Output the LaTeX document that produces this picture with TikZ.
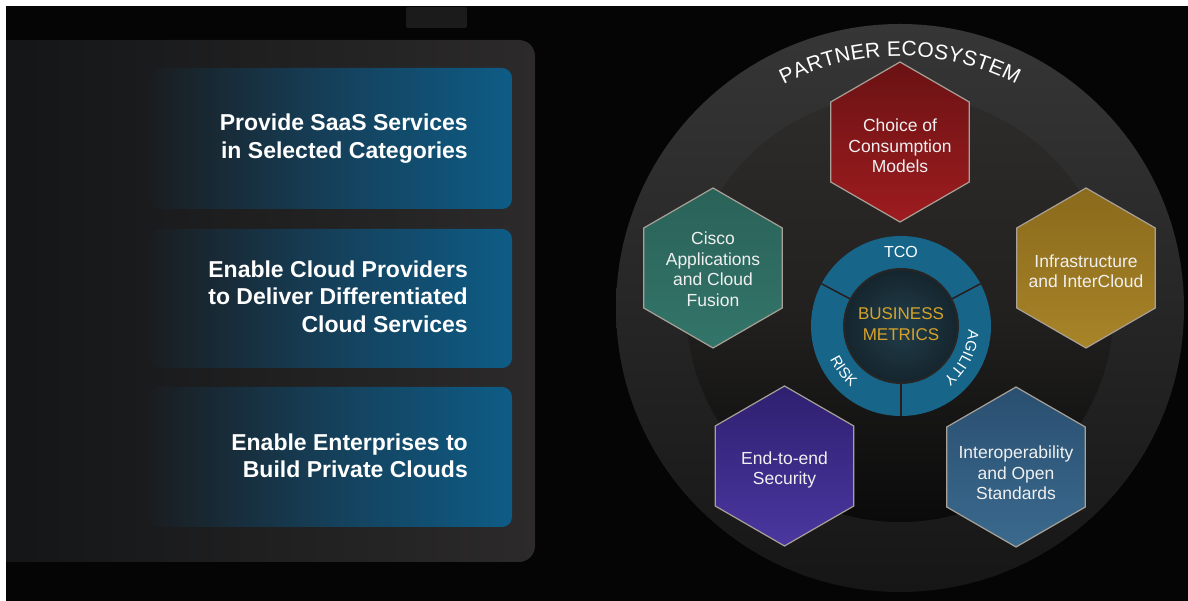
\documentclass[tikz,border=0pt]{standalone}
\usepackage{fontspec}
\setmainfont{Liberation Sans}
\usetikzlibrary{decorations.text}

\definecolor{bgblack}{HTML}{050505}
\definecolor{panelL}{HTML}{121416}
\definecolor{panelR}{HTML}{2C2A2A}
\definecolor{boxL}{HTML}{1A1D20}
\definecolor{boxM}{HTML}{15405A}
\definecolor{boxR}{HTML}{0E5C86}
\definecolor{tabgray}{HTML}{1B1B1B}
\definecolor{ringtop}{HTML}{363636}
\definecolor{ringbot}{HTML}{161616}
\definecolor{disktop}{HTML}{2E2C2B}
\definecolor{diskmid}{HTML}{222120}
\definecolor{diskbot}{HTML}{0A0A0A}
\definecolor{metricblue}{HTML}{17668A}
\definecolor{metricin}{HTML}{213E4B}
\definecolor{metricout}{HTML}{15252D}
\definecolor{metricgold}{HTML}{D6A32A}
\definecolor{divider}{HTML}{2A1C1C}
\definecolor{hexedge}{HTML}{A9A197}
\definecolor{redtop}{HTML}{6A1214}
\definecolor{redbot}{HTML}{9E1C1F}
\definecolor{tealtop}{HTML}{2A6258}
\definecolor{tealbot}{HTML}{33756A}
\definecolor{goldtop}{HTML}{8A6A1C}
\definecolor{goldbot}{HTML}{A88428}
\definecolor{purpletop}{HTML}{2E2070}
\definecolor{purplebot}{HTML}{4A37A0}
\definecolor{bluetop}{HTML}{2A4F70}
\definecolor{bluebot}{HTML}{3A6A8E}

\tikzset{
  boxtext/.style={font=\fontsize{23}{27.5}\selectfont\bfseries, text=white,
    align=right, inner sep=0pt, anchor=east},
  hextext/.style={font=\fontsize{17.5}{20.5}\selectfont, text=white!94!black,
    align=center, inner sep=0pt},
  metrictext/.style={font=\fontsize{17}{21}\selectfont, text=metricgold,
    align=center, inner sep=0pt},
  ringtext/.style={font=\fontsize{16}{16}\selectfont, text=white, inner sep=0pt},
  goalbox/.style={rounded corners=10pt, left color=boxL, right color=boxR,
    middle color=boxM},
  hexcell/.style n args={2}{top color=#1, bottom color=#2, draw=hexedge,
    line width=1.2pt},
  pics/hexagon/.style={code={
    \path[pic actions] (90:80) -- (30:80) -- (-30:80) -- (-90:80)
      -- (-150:80) -- (150:80) -- cycle;}},
  arclabel/.style={decorate, decoration={text along path, text color=white,
    text align=center, text={|\fontsize{15}{15}\selectfont|#1}}}
}

\begin{document}
\begin{tikzpicture}[x=1pt, y=1pt]
\useasboundingbox (0,0) rectangle (1188,601);
\fill[white] (0,0) rectangle (1188,601);

\begin{scope}
\clip (6,0) rectangle (1188,595);
\fill[bgblack] (6,0) rectangle (1188,595);

% small tab above the panel
\fill[tabgray, rounded corners=2pt] (406,573) rectangle (467,594);

% left panel, fading into the background on its left side
\fill[left color=panelL, right color=panelR, rounded corners=16pt]
  (-30,39) rectangle (535,561);

% the three goal boxes
\path[goalbox] (150,392) rectangle (512,533);
\path[goalbox] (150,233) rectangle (512,372);
\path[goalbox] (150,74) rectangle (512,214);

\node[boxtext] (goal1) at (468,462.5) {Provide SaaS Services\\in Selected Categories};
\node[boxtext] (goal2) at (468,304.4) {Enable Cloud Providers\\to Deliver Differentiated\\Cloud Services};
\node[boxtext] (goal3) at (468,145) {Enable Enterprises to\\Build Private Clouds};

% partner ecosystem ring
\coordinate (eco) at (900,293);
\shade[top color=ringtop, bottom color=ringbot] (eco) circle[radius=284];
\shade[top color=disktop, bottom color=diskbot, middle color=diskmid]
  (eco) circle[radius=214];
\path[decorate, decoration={text along path, text color=white,
    text align={fit to path},
    text={|\fontsize{21}{21}\selectfont|PARTNER ECOSYSTEM}}]
  ([shift={(117.5:252)}]eco) arc[start angle=117.5, end angle=62.5, radius=252];

% hexagonal capabilities
\pic[hexcell={redtop}{redbot}] at (900,459) {hexagon};
\pic[hexcell={tealtop}{tealbot}] at (713,333) {hexagon};
\pic[hexcell={goldtop}{goldbot}] at (1086,333) {hexagon};
\pic[hexcell={purpletop}{purplebot}] at (784.5,135) {hexagon};
\pic[hexcell={bluetop}{bluebot}] at (1016,134) {hexagon};

\node[hextext] (choice) at (900,455) {Choice of\\Consumption\\Models};
\node[hextext] (cisco) at (713,331.5) {Cisco\\Applications\\and Cloud\\Fusion};
\node[hextext] (infra) at (1086,329.5) {Infrastructure\\and InterCloud};
\node[hextext] (security) at (784.5,131) {End-to-end\\Security};
\node[hextext] (interop) at (1016,128) {Interoperability\\and Open\\Standards};

% business metrics wheel
\node[circle, minimum size=180pt, inner sep=0pt, fill=metricblue] (metric) at (901,275) {};
\node[circle, minimum size=114pt, inner sep=0pt, inner color=metricin,
  outer color=metricout, draw=black!85, line width=2pt] (core) at (metric) {};
\foreach \a in {28,152,270}
  \draw[divider, line width=1.5pt] (core.\a) -- (metric.\a);

\node[metrictext] (bizmetrics) at (901,276.5) {BUSINESS\\METRICS};
\node[ringtext] (tco) at (901,349) {TCO};
\path[arclabel=AGILITY]
  ([shift={(13:67.5)}]metric.center) arc[start angle=13, end angle=-67, radius=67.5];
\path[arclabel=RISK]
  ([shift={(178:78.5)}]metric.center) arc[start angle=178, end angle=258, radius=78.5];
\end{scope}
\end{tikzpicture}
\end{document}
